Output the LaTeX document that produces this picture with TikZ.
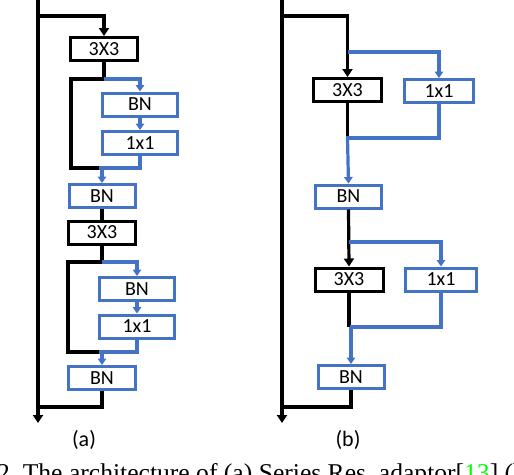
\documentclass[tikz,border=0pt]{standalone}
\usepackage{fontspec}
\setmainfont{Carlito}
\newfontfamily\capfont{Liberation Serif}
\usetikzlibrary{arrows.meta}
\definecolor{ablue}{HTML}{4472C4}
\definecolor{cgreen}{HTML}{00FF00}
\begin{document}
\begin{tikzpicture}[x=1pt,y=-1pt,
  box/.style={draw, line width=3pt, inner sep=0pt, minimum height=23pt, font=\fontsize{20}{22}\selectfont},
  kbox/.style={box, draw=black},
  bbox/.style={box, draw=ablue},
  kline/.style={draw=black, line width=3.2pt},
  bline/.style={draw=ablue, line width=3.2pt},
  karr/.style={kline, -{Triangle[width=10pt,length=8pt]}},
  barr/.style={bline, -{Triangle[width=8.5pt,length=6.5pt]}},
  lab/.style={font=\fontsize{22}{24}\selectfont}
]
\useasboundingbox (0,0) rectangle (514,474);
% ---------- panel (a) ----------
\node[kbox, minimum width=67pt] (a1) at (104,49) {3X3};
\node[bbox, minimum width=75pt] (a2) at (140,104.5) {BN};
\node[bbox, minimum width=75pt] (a3) at (140,143) {1x1};
\node[bbox, minimum width=66pt] (a4) at (102,196) {BN};
\node[kbox, minimum width=67pt] (a5) at (102,232.5) {3X3};
\node[bbox, minimum width=75pt] (a6) at (137,289) {BN};
\node[bbox, minimum width=75pt] (a7) at (137,326.5) {1x1};
\node[bbox, minimum width=67pt] (a8) at (102,378) {BN};

\coordinate (inA) at (38,-2);
\coordinate (outA) at (38,423);
\coordinate (tA) at (38,16);
\coordinate (sa1) at (104,79);
\coordinate (la1) at (71,79);
\coordinate (ma1) at (102,168);
\coordinate (sa2) at (102,262);
\coordinate (la2) at (68,262);
\coordinate (ma2) at (102,352);
\coordinate (ea) at (38,407);

\draw[karr] (inA) -- (outA);
\draw[karr] (tA) -| (a1.north);
\draw[kline] (a1.south) -- (sa1);
\draw[barr] (sa1) -| (a2.north);
\draw[kline] (sa1) -- (la1) |- (ma1);
\draw[barr] (a2.south) -- (a3.north);
\draw[bline] (a3.south) |- ([xshift=-3pt]ma1);
\draw[barr] (ma1) -- (a4.north);
\draw[kline] (a4.south) -- (a5.north);
\draw[kline] (a5.south) -- (sa2);
\draw[barr] (sa2) -| (a6.north);
\draw[kline] (sa2) -- (la2) |- (ma2);
\draw[barr] (a6.south) -- (a7.north);
\draw[bline] (a7.south) |- ([xshift=-3pt]ma2);
\draw[barr] (ma2) -- (a8.north);
\draw[kline] (a8.south) |- (ea);

\node[lab] (la) at (84,440) {(a)};

% ---------- panel (b) ----------
\node[kbox, minimum width=68pt] (b1) at (347.5,90) {3X3};
\node[bbox, minimum width=69pt] (b2) at (439,91) {1x1};
\node[bbox, minimum width=66pt] (b3) at (348.5,196.5) {BN};
\node[kbox, minimum width=68pt] (b4) at (349,279.5) {3X3};
\node[bbox, minimum width=71pt] (b5) at (441,279.5) {1x1};
\node[bbox, minimum width=66pt] (b6) at (351,377) {BN};

\coordinate (inB) at (282,-2);
\coordinate (outB) at (282,423);
\coordinate (tB) at (282,16);
\coordinate (sb1) at (347.5,52);
\coordinate (mb1) at (347.5,138);
\coordinate (sb2) at (349,242);
\coordinate (mb2) at (351,327);
\coordinate (eb) at (282,407);

\draw[karr] (inB) -- (outB);
\draw[karr] (tB) -| (b1.north);
\draw[barr] (sb1) -| (b2.north);
\draw[kline] (b1.south) -- (mb1);
\draw[bline] (b2.south) |- ([xshift=-1.5pt]mb1);
\draw[barr] (mb1) -- (b3.north);
\draw[karr] (b3.south) -- (b4.north);
\draw[barr] (sb2) -| (b5.north);
\draw[kline] (b4.south) -- (b4.south |- mb2);
\draw[bline] (b5.south) |- ([xshift=-1.5pt]mb2);
\draw[barr] (mb2) -- (b6.north);
\draw[kline] (b6.south) |- (eb);

\node[lab] (lb) at (348,440) {(b)};

% ---------- caption (cut off at bottom) ----------
\begin{scope}
\clip (0,0) rectangle (514,474);
\node[anchor=base west, inner sep=0pt, font=\capfont\fontsize{25.6}{28}\selectfont] (cap) at (-3,481)
 {2.\ The architecture of (a) Series Res.\ adaptor[\textcolor{cgreen}{13}] (b)};
\end{scope}
\end{tikzpicture}
\end{document}
